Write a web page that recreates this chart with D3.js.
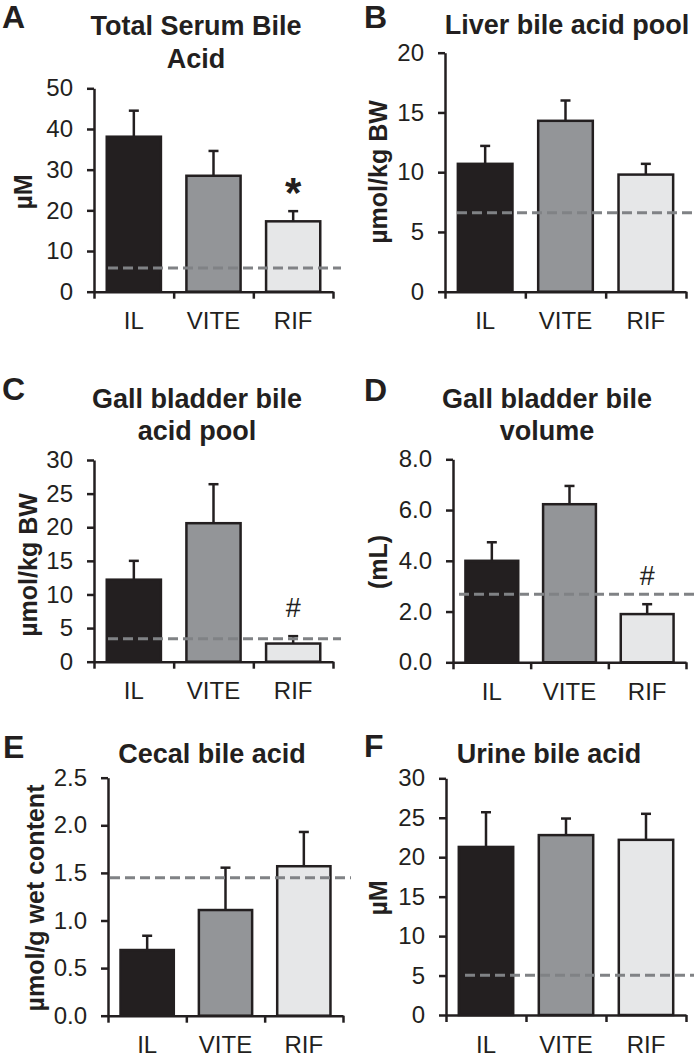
<!DOCTYPE html>
<html>
<head>
<meta charset="utf-8">
<script src="https://cdn.jsdelivr.net/npm/d3@7"></script>
<style>
  html, body { margin: 0; padding: 0; background: #fff; }
  svg { display: block; }
  text { font-family: "Liberation Sans", Arial, Helvetica, sans-serif; fill: #231f20; }
</style>
</head>
<body>
<svg id="chart" width="694" height="1063"></svg>
<script>
// ---------------- DATA ----------------
const categories = ["IL", "VITE", "RIF"];
const barColors = ["#231f20", "#939598", "#e6e7e8"];

const panelLetters = ["A", "B", "C", "D", "E", "F"];
const panelTitles = [
  ["Total Serum Bile", "Acid"],
  ["Liver bile acid pool"],
  ["Gall bladder bile", "acid pool"],
  ["Gall bladder bile", "volume"],
  ["Cecal bile acid"],
  ["Urine bile acid"]
];
const yTitles = ["µM", "µmol/kg BW", "µmol/kg BW", "(mL)", "µmol/g wet content", "µM"];

// means (bar heights)
const serumMean = [38.1, 28.5, 17.3];
const liverMean = [10.7, 14.3, 9.8];
const gbPoolMean = [12.2, 20.6, 2.7];
const gbVolMean = [4.0, 6.23, 1.9];
const cecalMean = [0.69, 1.11, 1.57];
const urineMean = [21.3, 22.8, 22.2];

// upper error (SEM)
const serumErr = [6.4, 6.1, 2.5];
const liverErr = [1.5, 1.7, 0.9];
const gbPoolErr = [2.8, 5.8, 1.1];
const gbVolErr = [0.73, 0.72, 0.39];
const cecalErr = [0.15, 0.445, 0.36];
const urineErr = [4.4, 2.1, 3.3];

// dashed reference line values
const refValues = [5.8, 6.6, 3.4, 2.68, 1.45, 5.05];

// y tick values
const serumTicks = [0, 10, 20, 30, 40, 50];
const liverTicks = [0, 5, 10, 15, 20];
const gbPoolTicks = [0, 5, 10, 15, 20, 25, 30];
const gbVolTicks = [0, 2, 4, 6, 8];
const cecalTicks = [0, 0.5, 1.0, 1.5, 2.0, 2.5];
const urineTicks = [0, 5, 10, 15, 20, 25, 30];
const tickFormats = ["d", "d", "d", ".1f", ".1f", "d"];

// significance marks: [panel index, category index, symbol]
const marks = [[0, 2, "*"], [2, 2, "#"], [3, 2, "#"]];

const means = [serumMean, liverMean, gbPoolMean, gbVolMean, cecalMean, urineMean];
const errs = [serumErr, liverErr, gbPoolErr, gbVolErr, cecalErr, urineErr];
const ticks = [serumTicks, liverTicks, gbPoolTicks, gbVolTicks, cecalTicks, urineTicks];

// ---------------- LAYOUT ----------------
const layout = [
  { x0: 94,  x1: 333, yTop: 88.3,  yBot: 291.7, letterX: 2,   letterY: 28,  titleX: 196, titleY: [35, 68],  yTitleX: 32,  yTitleY: 192, dashStart: 14, dashEnd: 8 },
  { x0: 445, x1: 686, yTop: 52.7,  yBot: 291.7, letterX: 364, letterY: 28,  titleX: 567, titleY: [34],      yTitleX: 387, yTitleY: 172, dashStart: 12, dashEnd: 12 },
  { x0: 94,  x1: 333, yTop: 460,   yBot: 661.7, letterX: 2,   letterY: 400, titleX: 197, titleY: [408, 440], yTitleX: 37, yTitleY: 565, dashStart: 14, dashEnd: 8 },
  { x0: 453, x1: 686, yTop: 459.3, yBot: 662.3, letterX: 364, letterY: 401, titleX: 547, titleY: [408, 440], yTitleX: 387, yTitleY: 562, dashStart: 6, dashEnd: 12 },
  { x0: 108, x1: 343, yTop: 777.7, yBot: 1015.7, letterX: 3,  letterY: 758, titleX: 212, titleY: [763],     yTitleX: 44,  yTitleY: 898, dashStart: 2, dashEnd: 8 },
  { x0: 446, x1: 686, yTop: 778.3, yBot: 1015, letterX: 364,  letterY: 757, titleX: 549, titleY: [763],     yTitleX: 387, yTitleY: 898, dashStart: 19, dashEnd: 12 }
];

const svg = d3.select("#chart");
const ink = "#231f20";

layout.forEach((L, i) => {
  const g = svg.append("g");
  const tv = ticks[i];
  const yMax = tv[tv.length - 1];
  const y = d3.scaleLinear().domain([0, yMax]).range([L.yBot, L.yTop]);
  const x = d3.scaleBand().domain(categories).range([L.x0, L.x1]).paddingInner(0.32).paddingOuter(0.16);
  const xb = d3.scaleLinear().domain([0, categories.length]).range([L.x0, L.x1]);

  // bars
  g.selectAll("rect.bar").data(categories).join("rect")
    .attr("x", d => x(d))
    .attr("y", (d, j) => y(means[i][j]))
    .attr("width", x.bandwidth())
    .attr("height", (d, j) => y(0) - y(means[i][j]))
    .attr("fill", (d, j) => barColors[j])
    .attr("stroke", ink).attr("stroke-width", 2.5);

  // error bars
  const eb = g.selectAll("g.err").data(categories).join("g");
  eb.append("line")
    .attr("x1", d => x(d) + x.bandwidth() / 2).attr("x2", d => x(d) + x.bandwidth() / 2)
    .attr("y1", (d, j) => y(means[i][j])).attr("y2", (d, j) => y(means[i][j] + errs[i][j]))
    .attr("stroke", ink).attr("stroke-width", 2.5);
  eb.append("line")
    .attr("x1", d => x(d) + x.bandwidth() / 2 - 5).attr("x2", d => x(d) + x.bandwidth() / 2 + 5)
    .attr("y1", (d, j) => y(means[i][j] + errs[i][j])).attr("y2", (d, j) => y(means[i][j] + errs[i][j]))
    .attr("stroke", ink).attr("stroke-width", 2.5);

  // dashed reference line
  g.append("line")
    .attr("x1", L.x0 + L.dashStart).attr("x2", L.x1 + L.dashEnd)
    .attr("y1", y(refValues[i])).attr("y2", y(refValues[i]))
    .attr("stroke", "#808285").attr("stroke-width", 3).attr("stroke-dasharray", "10,5");

  // y axis
  const yAxis = g.append("g").attr("transform", `translate(${L.x0},0)`)
    .call(d3.axisLeft(y).tickValues(tv).tickSize(7).tickSizeOuter(0).tickPadding(14).tickFormat(d3.format(tickFormats[i])));
  yAxis.select(".domain").attr("stroke", ink).attr("stroke-width", 2.5);
  yAxis.selectAll(".tick line").attr("stroke", ink).attr("stroke-width", 2.5);
  yAxis.selectAll(".tick text").attr("font-size", 24).attr("fill", ink)
    .style("font-family", "'Liberation Sans', Arial, sans-serif");

  // x axis (ticks at band boundaries)
  const xAxis = g.append("g").attr("transform", `translate(0,${L.yBot})`)
    .call(d3.axisBottom(xb).tickValues(d3.range(categories.length + 1)).tickSize(7).tickSizeOuter(0).tickFormat(""));
  xAxis.select(".domain").attr("stroke", ink).attr("stroke-width", 2.5);
  xAxis.selectAll(".tick line").attr("stroke", ink).attr("stroke-width", 2.5);

  // x labels
  g.selectAll("text.xl").data(categories).join("text")
    .attr("class", "xl")
    .attr("x", d => x(d) + x.bandwidth() / 2)
    .attr("y", L.yBot + 37.5)
    .attr("text-anchor", "middle")
    .attr("font-size", 24)
    .text(d => d);

  // panel letter
  g.append("text").attr("x", L.letterX).attr("y", L.letterY)
    .attr("font-size", 32).attr("font-weight", "bold").text(panelLetters[i]);

  // title
  panelTitles[i].forEach((t, k) => {
    g.append("text").attr("x", L.titleX).attr("y", L.titleY[k])
      .attr("text-anchor", "middle").attr("font-size", 27).attr("font-weight", "bold").text(t);
  });

  // y title
  g.append("text")
    .attr("transform", `translate(${L.yTitleX},${L.yTitleY}) rotate(-90)`)
    .attr("text-anchor", "middle").attr("font-size", 25).attr("font-weight", "bold")
    .text(yTitles[i]);

  // significance marks
  marks.filter(m => m[0] === i).forEach(m => {
    const j = m[1];
    const top = y(means[i][j] + errs[i][j]);
    const cx = x(categories[j]) + x.bandwidth() / 2;
    if (m[2] === "*") {
      g.append("text").attr("x", cx).attr("y", top - 4)
        .attr("text-anchor", "middle").attr("font-size", 42).attr("font-weight", "bold").text(m[2]);
    } else {
      g.append("text").attr("x", cx).attr("y", top - 19)
        .attr("text-anchor", "middle").attr("font-size", 27).text(m[2]);
    }
  });
});
</script>
</body>
</html>
